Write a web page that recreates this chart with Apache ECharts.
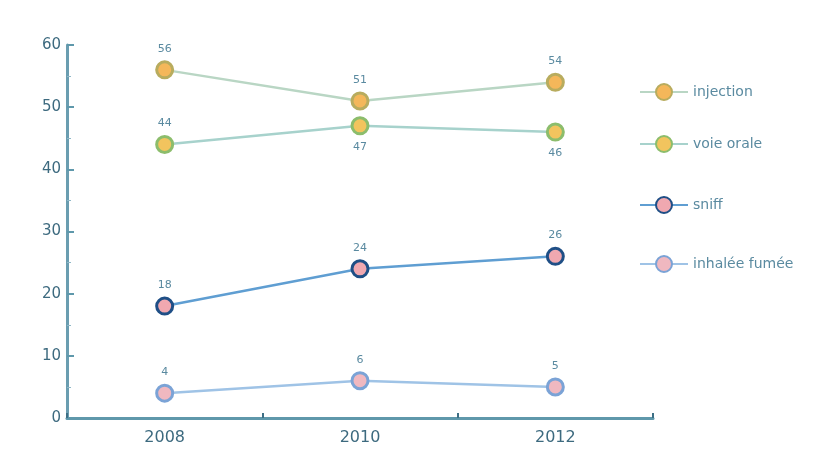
<!DOCTYPE html>
<html><head><meta charset="utf-8">
<script src="https://cdn.jsdelivr.net/npm/echarts@6/dist/echarts.min.js"></script>
<style>html,body{margin:0;padding:0;background:#fff}#c{width:822px;height:466px}</style>
</head><body><div id="c"></div>
<script>
var categories = ['2008', '2010', '2012'];
var injection = [56, 51, 54];
var voieOrale = [44, 47, 46];
var sniff = [18, 24, 26];
var inhalee = [4, 6, 5];
var voieOraleLabelPos = ['top', 'bottom', 'bottom'];
var seriesNames = ['injection', 'voie orale', 'sniff', 'inhalée fumée'];
var legendTops = [78, 130, 191, 250];

var chart = echarts.init(document.getElementById('c'));
var txt = '#5a8aa0';
function mk(name, data, line, fill, border, z, posArr) {
  return {
    name: name, type: 'line', data: data.map(function (v, i) {
      return posArr ? { value: v, label: { position: posArr[i] } } : v;
    }),
    symbol: 'circle', symbolSize: 16, z: z,
    lineStyle: { color: line, width: 2.5 },
    itemStyle: { color: fill, borderColor: border, borderWidth: 3 },
    label: { show: true, position: 'top', distance: 6, color: txt, fontSize: 11, fontFamily: 'DejaVu Sans' }
  };
}
chart.setOption({
  animation: false,
  grid: { left: 67, right: 169, top: 45, bottom: 48 },
  legend: seriesNames.map(function (n, i) {
    return {
      orient: 'vertical', left: 634, top: legendTops[i],
      itemWidth: 48, itemHeight: 20, itemGap: 10,
      textStyle: { color: '#5a8aa0', fontSize: 14, fontFamily: 'DejaVu Sans' },
      data: [n]
    };
  }),
  xAxis: {
    type: 'category', data: categories, boundaryGap: true,
    axisLine: { lineStyle: { color: '#5f98ab', width: 3 } },
    axisTick: { show: true, inside: true, length: 5, lineStyle: { color: '#3d6f85', width: 2 } },
    axisLabel: { color: '#3d6a7f', fontSize: 16, margin: 12, fontFamily: 'DejaVu Sans' }
  },
  yAxis: {
    type: 'value', min: 0, max: 60, interval: 10,
    axisLine: { show: true, lineStyle: { color: '#6a9db0', width: 3 } },
    axisTick: { show: true, inside: true, length: 7, lineStyle: { color: '#5f98ab', width: 2 } },
    minorTick: { show: true, splitNumber: 2, length: 4, lineStyle: { color: '#8fb7c6' } },
    splitLine: { show: false },
    axisLabel: { color: '#3d6a7f', fontSize: 15, margin: 6, fontFamily: 'DejaVu Sans' }
  },
  series: [
    mk('injection', injection, '#b9d6c4', '#f4b75a', '#b8ac5e', 4),
    mk('voie orale', voieOrale, '#a7d2cc', '#f2c45e', '#8cbd6c', 3, voieOraleLabelPos),
    mk('sniff', sniff, '#5f9ed2', '#f0a8b0', '#1f4f86', 2),
    mk('inhalée fumée', inhalee, '#9fc3e6', '#f0b8c0', '#7ba3d6', 1)
  ]
});
</script></body></html>
